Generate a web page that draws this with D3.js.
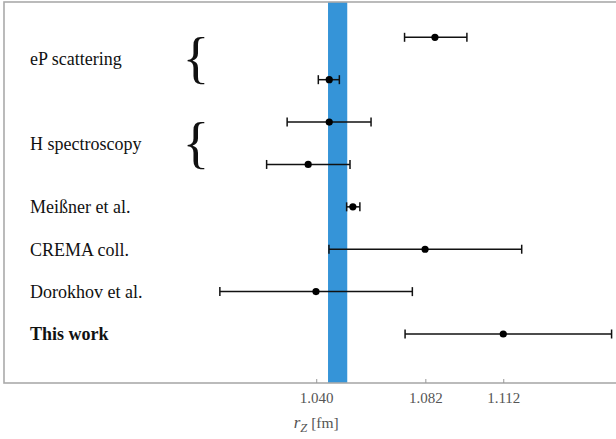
<!DOCTYPE html>
<html>
<head>
<meta charset="utf-8">
<script src="https://cdn.jsdelivr.net/npm/d3@7"></script>
<style>
  body { margin: 0; background: #fff; }
  svg { display: block; }
</style>
</head>
<body>
<svg id="chart" width="616" height="439"></svg>
<script>
// values (fm)
let rowLabels = ["eP scattering", "H spectroscopy", "Meißner et al.", "CREMA coll.", "Dorokhov et al.", "This work"];
let centers = [1.0857, 1.0450, 1.0450, 1.0369, 1.0541, 1.0819, 1.0399, 1.1120];
let lows    = [1.0740, 1.0408, 1.0288, 1.0209, 1.0517, 1.0449, 1.0029, 1.0742];
let highs   = [1.0980, 1.0489, 1.0611, 1.0530, 1.0568, 1.1191, 1.0770, 1.1537];
let bandRange = [1.04454, 1.05194];
let tickValues = [1.040, 1.082, 1.112];
let xDomain = [0.9198, 1.1554];

function draw(svg_name){
    let chart = d3.select(svg_name);

    let rows = d3.range(centers.length);
    let data = rows.map(i => ({row: i, c: centers[i], lo: lows[i], hi: highs[i]}));

    xScale = d3.scaleLinear().domain(xDomain).range([4, 616]);
    yScale = d3.scalePoint().domain(rows).range([37.3, 334]);

    let top = 2, bottom = 383;

    // reference band
    chart.append("rect")
        .attr("x", xScale(bandRange[0]))
        .attr("y", top)
        .attr("width", xScale(bandRange[1]) - xScale(bandRange[0]))
        .attr("height", bottom - top)
        .attr("fill", "#3594d8");

    // frame
    chart.append("rect")
        .attr("x", 4).attr("y", top)
        .attr("width", 620).attr("height", bottom - top)
        .attr("fill", "none")
        .attr("stroke", "#aaa")
        .attr("stroke-width", 1.6);

    // axis
    let xAxis = chart.append("g")
        .attr("transform", "translate(0," + bottom + ")")
        .call(d3.axisBottom(xScale).tickValues(tickValues).tickSize(-4).tickPadding(9).tickFormat(d3.format(".3f")));
    xAxis.select(".domain").remove();
    xAxis.selectAll(".tick line").attr("stroke", "#999");
    xAxis.selectAll(".tick text")
        .attr("fill", "#555")
        .style("font-family", "Liberation Serif, serif")
        .style("font-size", "15px");

    let title = chart.append("text")
        .attr("x", xScale(1.040))
        .attr("y", 428)
        .attr("text-anchor", "middle")
        .attr("fill", "#555")
        .style("font-family", "Liberation Serif, serif")
        .style("font-size", "15.5px");
    title.append("tspan").text("r").style("font-style", "italic").style("font-size", "17px");
    title.append("tspan").text("Z").style("font-style", "italic").style("font-size", "12.5px").attr("dy", 4);
    title.append("tspan").text(" [fm]").attr("dy", -4);

    // error bars
    let g = chart.append("g").attr("stroke", "#111").attr("stroke-width", 1.5);
    g.selectAll("line.bar").data(data).enter().append("line")
        .attr("class", "bar")
        .attr("x1", d => xScale(d.lo)).attr("x2", d => xScale(d.hi))
        .attr("y1", d => yScale(d.row)).attr("y2", d => yScale(d.row));
    g.selectAll("line.capl").data(data).enter().append("line")
        .attr("class", "capl")
        .attr("x1", d => xScale(d.lo)).attr("x2", d => xScale(d.lo))
        .attr("y1", d => yScale(d.row) - 4.5).attr("y2", d => yScale(d.row) + 4.5);
    g.selectAll("line.caph").data(data).enter().append("line")
        .attr("class", "caph")
        .attr("x1", d => xScale(d.hi)).attr("x2", d => xScale(d.hi))
        .attr("y1", d => yScale(d.row) - 4.5).attr("y2", d => yScale(d.row) + 4.5);

    chart.selectAll("circle").data(data).enter().append("circle")
        .attr("cx", d => xScale(d.c))
        .attr("cy", d => yScale(d.row))
        .attr("r", 3.6)
        .attr("fill", "#000");

    // labels: two groups span two rows each, the rest one row
    let labelRows = [[0, 1], [2, 3], [4], [5], [6], [7]];
    rowLabels.forEach((name, i) => {
        let ys = labelRows[i].map(r => yScale(r));
        let y = d3.mean(ys);
        chart.append("text")
            .text(name)
            .attr("x", 30)
            .attr("y", y)
            .attr("dy", "0.35em")
            .attr("fill", "#111")
            .style("font-family", "Liberation Serif, serif")
            .style("font-size", "18px")
            .style("font-weight", name == "This work" ? "bold" : "normal");
        if (ys.length > 1){
            chart.append("text")
                .text("{")
                .attr("x", 196)
                .attr("y", y)
                .attr("dy", "0.33em")
                .attr("text-anchor", "middle")
                .attr("fill", "#111")
                .style("font-family", "Liberation Serif, serif")
                .style("font-size", "56px");
        }
    });
}

draw("#chart");
</script>
</body>
</html>
